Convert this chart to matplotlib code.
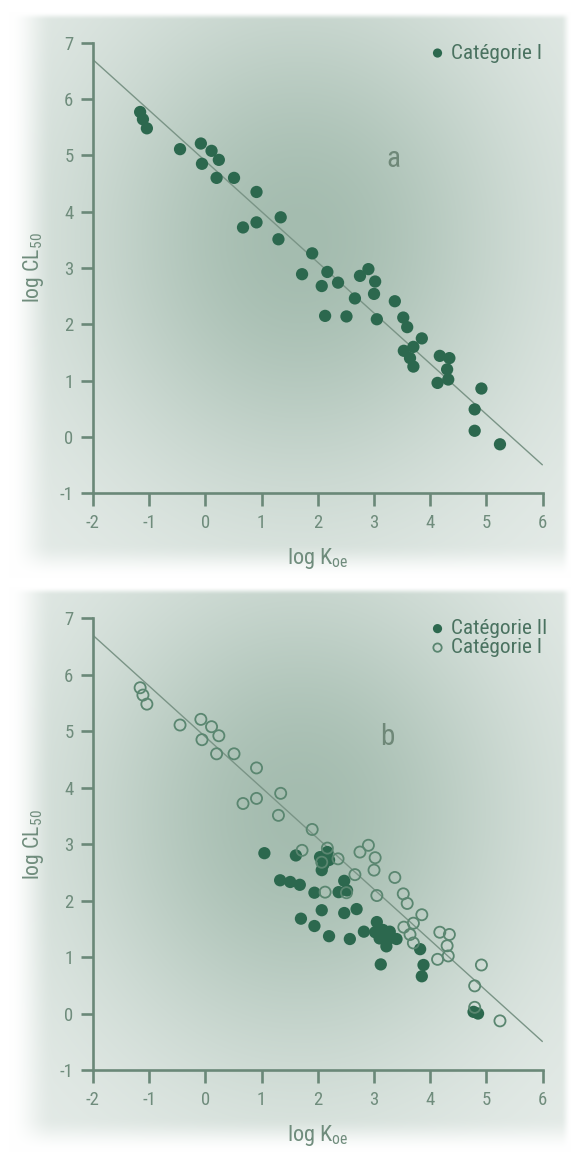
import numpy as np
import matplotlib
matplotlib.use('Agg')
import matplotlib.pyplot as plt
from matplotlib import font_manager
from matplotlib.font_manager import FontProperties
from matplotlib.textpath import TextPath

# ---------------- data ----------------
cat1_x = [-1.16, -1.11, -1.04, -0.45, -0.08, 0.11, 0.24, -0.06, 0.20, 0.51,
          0.91, 1.34, 0.91, 0.67, 1.30, 1.90, 1.72, 2.17, 2.07, 2.36,
          2.75, 2.90, 3.02, 3.00, 2.66, 3.37, 2.13, 2.51, 3.05, 3.52,
          3.59, 3.85, 3.70, 3.53, 3.64, 3.70, 4.17, 4.34, 4.30, 4.32,
          4.13, 4.91, 4.79, 4.79, 5.24]
cat1_y = [5.77, 5.64, 5.48, 5.11, 5.21, 5.08, 4.92, 4.85, 4.60, 4.60,
          4.35, 3.90, 3.81, 3.72, 3.51, 3.26, 2.89, 2.93, 2.68, 2.74,
          2.86, 2.98, 2.76, 2.54, 2.46, 2.41, 2.15, 2.14, 2.09, 2.12,
          1.95, 1.75, 1.60, 1.53, 1.40, 1.25, 1.44, 1.40, 1.20, 1.02,
          0.96, 0.86, 0.49, 0.11, -0.13]

cat2_x = [1.05, 1.61, 2.04, 2.17, 2.20, 2.10, 2.07, 1.33, 1.51, 1.68,
          1.94, 2.37, 2.47, 2.52, 2.07, 2.47, 2.69, 1.70, 1.94, 2.20,
          2.57, 2.82, 3.05, 3.02, 3.16, 3.28, 3.10, 3.24, 3.40, 3.22,
          3.12, 3.82, 3.88, 3.85, 4.77, 4.85]
cat2_y = [2.84, 2.80, 2.77, 2.86, 2.72, 2.64, 2.54, 2.36, 2.33, 2.28,
          2.14, 2.15, 2.35, 2.18, 1.83, 1.78, 1.85, 1.68, 1.55, 1.37,
          1.32, 1.45, 1.62, 1.44, 1.48, 1.45, 1.33, 1.30, 1.32, 1.19,
          0.87, 1.14, 0.86, 0.66, 0.03, 0.00]

fit_slope = -0.90
fit_intercept = 4.90
fit_x = [-2.0, 6.0]

x_ticks = [-2, -1, 0, 1, 2, 3, 4, 5, 6]
y_ticks = [-1, 0, 1, 2, 3, 4, 5, 6, 7]
panel_letters = ['a', 'b']
label_cat1 = 'Catégorie I'
label_cat2 = 'Catégorie II'

# ---------------- font choice (narrowest available) ----------------
names = {f.name for f in font_manager.fontManager.ttflist}
pref = ['Noto Sans ExtraCondensed', 'Roboto Condensed', 'Noto Sans Condensed',
        'Liberation Sans Narrow', 'Open Sans Condensed', 'DejaVu Sans Condensed',
        'Noto Sans SemiCondensed', 'Open Sans SemiCondensed', 'Roboto']
chosen = next((p for p in pref if p in names), None)
stretch = 'normal'
if chosen is None:
    if any(f.name == 'DejaVu Sans' and 'condensed' in str(f.stretch) for f in font_manager.fontManager.ttflist):
        chosen, stretch = 'DejaVu Sans', 'condensed'
    else:
        chosen = 'DejaVu Sans'

plt.rcParams['font.family'] = [chosen, 'DejaVu Sans']
plt.rcParams['font.stretch'] = stretch
plt.rcParams['axes.unicode_minus'] = False
plt.rcParams['mathtext.fontset'] = 'custom'
plt.rcParams['mathtext.rm'] = chosen
plt.rcParams['mathtext.it'] = chosen
plt.rcParams['mathtext.bf'] = chosen

FP = FontProperties(family=chosen, stretch=stretch)
def width_px(s, size_pt):
    return TextPath((0, 0), s, size=1, prop=FP).get_extents().width * size_pt * 100 / 72.0
def fit_size(s, max_pt, target_px):
    w1 = width_px(s, 1.0)
    return min(max_pt, target_px / w1) if w1 > 0 else max_pt

leg_size = fit_size(label_cat1, 17, 88)
xlab_size = fit_size('log K', 18, 43)
ylab_size = fit_size('log CL', 18, 52)
tick_size = fit_size('-1', 13.5, 13)
letter_size = 21

x_label = r'log K$_{\mathrm{oe}}$'
y_label = r'log CL$_{\mathrm{50}}$'

DOT = '#2c684e'
RING = '#5a8670'
SPINE = '#6a8878'
TICKLAB = '#6f8c7c'
TXT = '#4a7260'
LINE = '#7a9486'

W, H = 578, 1157
fig = plt.figure(figsize=(W / 100, H / 100), dpi=100)

# background vignette (style only)
yy, xx = np.mgrid[0:H, 0:W] + 0.5
img = np.ones((H, W, 3))
light = np.array([231, 237, 234]) / 255.0
dark = np.array([164, 188, 175]) / 255.0
def smooth(v):
    v = np.clip(v, 0, 1)
    return v * v * (3 - 2 * v)
for (x0, x1, y0, y1, cx, cy) in [(9, 571, 12, 578, 300, 240), (9, 571, 587, 1152, 300, 815)]:
    fx = smooth((xx - x0) / 45.0) * smooth((x1 - xx) / 10.0)
    fy = smooth((yy - y0) / 8.0) * smooth((y1 - yy) / 35.0)
    e = fx * fy
    t = np.exp(-0.5 * (((xx - cx) / 160.0) ** 2 + ((yy - cy) / 180.0) ** 2))
    col = light[None, None, :] * (1 - t[..., None]) + dark[None, None, :] * t[..., None]
    mask = (yy >= y0 - 1) & (yy <= y1 + 1)
    blend = img * (1 - e[..., None]) + col * e[..., None]
    img[mask] = blend[mask]
bg = fig.add_axes([0, 0, 1, 1], zorder=-10)
bg.imshow(img, aspect='auto', extent=(0, W, H, 0), interpolation='bilinear')
bg.set_axis_off()

# axes boxes in pixels: left, right, top, bottom
boxes = [(92.9, 542.7, 42.7, 493.3), (92.9, 542.7, 618.3, 1070.0)]
letter_pos = [(0.668, 0.725), (0.654, 0.7195)]

fit_y = [fit_slope * v + fit_intercept for v in fit_x]

for i, (l, r, t, b) in enumerate(boxes):
    ax = fig.add_axes([l / W, (H - b) / H, (r - l) / W, (b - t) / H])
    ax.patch.set_alpha(0)
    ax.set_xlim(-2, 6)
    ax.set_ylim(-1, 7)
    for s in ['top', 'right']:
        ax.spines[s].set_visible(False)
    for s in ['left', 'bottom']:
        ax.spines[s].set_color(SPINE)
        ax.spines[s].set_linewidth(1.9)
    ax.set_xticks(x_ticks)
    ax.set_yticks(y_ticks)
    ax.tick_params(axis='both', direction='out', length=9, width=1.9, color=SPINE,
                   labelcolor=TICKLAB, labelsize=tick_size)
    ax.tick_params(axis='x', pad=6)
    ax.tick_params(axis='y', pad=5)

    ax.plot(fit_x, fit_y, color=LINE, lw=1.0, zorder=1, solid_capstyle='butt')

    if i == 0:
        h1 = ax.scatter(cat1_x, cat1_y, s=78, c=DOT, edgecolors='none', zorder=3,
                        label=label_cat1)
        handles = [h1]
    else:
        h2 = ax.scatter(cat2_x, cat2_y, s=78, c=DOT, edgecolors='none', zorder=3,
                        label=label_cat2)
        h1 = ax.scatter(cat1_x, cat1_y, s=64, facecolors='none', edgecolors=RING,
                        linewidths=1.3, zorder=4, label=label_cat1)
        handles = [h2, h1]

    leg = ax.legend(handles=handles, loc='upper left', bbox_to_anchor=(0.752, 0.998),
                    frameon=False, borderpad=0, borderaxespad=0, handlelength=0.6,
                    handletextpad=0.35, labelspacing=0.0, fontsize=leg_size,
                    markerscale=0.75, scatterpoints=1)
    for txt in leg.get_texts():
        txt.set_color(TXT)

    ax.set_xlabel(x_label, fontsize=xlab_size, color=TICKLAB, va='top')
    ax.xaxis.set_label_coords(0.5, -0.118)
    ax.set_ylabel(y_label, fontsize=ylab_size, color=TICKLAB)
    ax.yaxis.set_label_coords(-0.104, 0.5)

    ax.text(letter_pos[i][0], letter_pos[i][1], panel_letters[i], transform=ax.transAxes,
            ha='center', va='baseline', fontsize=letter_size, color='#6f8878')

fig.savefig('out.png', dpi=100)
